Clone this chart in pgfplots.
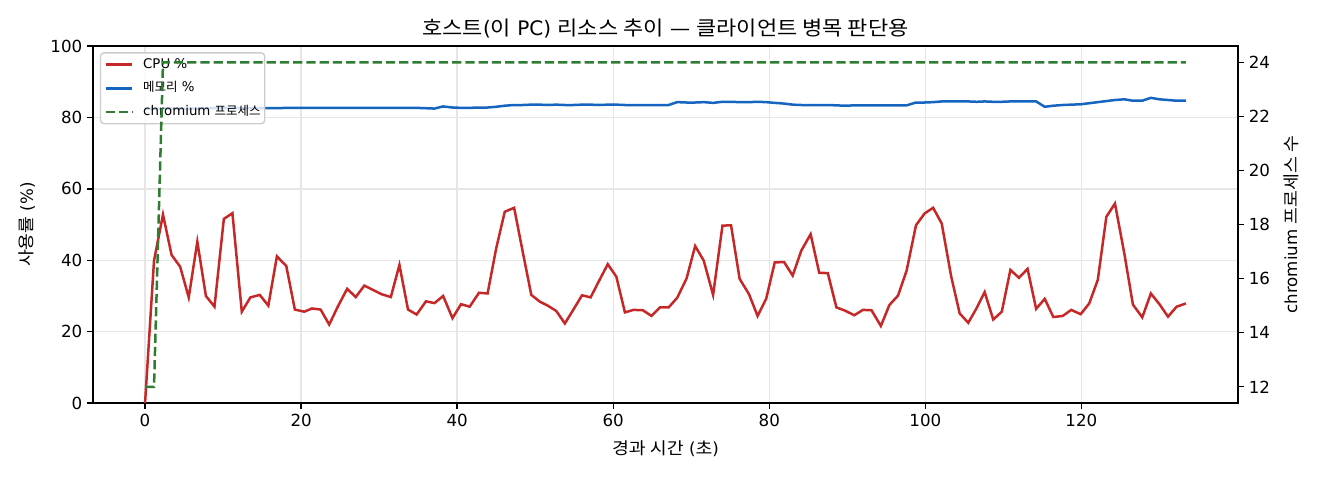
\documentclass[border=0pt]{standalone}
\usepackage{fontspec}
\setmainfont{DejaVu Sans}
\newfontfamily\kr[FakeStretch=1.1]{Noto Sans CJK KR}
\newfontfamily\krn{Noto Sans CJK KR}
\usepackage{pgfplots}
\pgfplotsset{compat=1.18}
\usepackage{pgfplotstable}
\definecolor{cpured}{HTML}{C62828}
\definecolor{memblue}{HTML}{1565C0}
\definecolor{chgreen}{HTML}{2E7D32}
\definecolor{gridc}{HTML}{E6E6E6}

\pgfplotstableread{
t cpu mem
0 0 82.4
1.15 39.9 82.4
2.3 52.8 82.5
3.4 41.5 82.5
4.5 38.2 82.5
5.6 29.6 82.5
6.7 45.2 82.5
7.8 30.0 82.6
8.9 27.0 82.6
10.1 51.6 82.6
11.2 53.2 82.6
12.4 25.6 82.6
13.5 29.6 82.6
14.7 30.3 82.6
15.8 27.3 82.6
16.9 41.1 82.6
18.1 38.4 82.7
19.2 26.2 82.7
20.4 25.6 82.7
21.4 26.5 82.7
22.5 26.2 82.7
23.6 22.0 82.7
24.7 27.0 82.7
25.9 32.0 82.7
27.0 29.7 82.7
28.1 32.9 82.7
29.2 31.7 82.7
30.3 30.5 82.7
31.5 29.7 82.7
32.6 38.7 82.7
33.7 26.2 82.7
34.8 24.8 82.7
36.0 28.5 82.6
37.1 28.0 82.5
38.2 30.0 83.1
39.4 23.8 82.8
40.5 27.7 82.7
41.6 27.0 82.7
42.8 30.9 82.8
43.9 30.7 82.8
45.0 43.3 83.0
46.1 53.6 83.3
47.3 54.7 83.5
48.4 42.4 83.5
49.5 30.3 83.6
50.6 28.4 83.6
51.6 27.3 83.5
52.7 25.8 83.6
53.8 22.3 83.5
54.9 26.2 83.5
56.0 30.2 83.6
57.1 29.6 83.6
58.2 34.3 83.5
59.3 38.9 83.6
60.4 35.4 83.6
61.5 25.4 83.5
62.6 26.1 83.5
63.8 26.0 83.5
64.9 24.4 83.5
66.0 26.8 83.5
67.1 26.8 83.5
68.2 29.5 84.3
69.4 34.9 84.2
70.5 44.0 84.2
71.6 39.9 84.3
72.8 30.3 84.1
74.0 49.7 84.4
75.1 49.8 84.4
76.2 34.8 84.3
77.4 30.5 84.3
78.5 24.4 84.4
79.6 29.2 84.3
80.7 39.4 84.1
81.9 39.5 83.9
83.0 35.7 83.6
84.1 42.7 83.5
85.3 47.3 83.5
86.4 36.5 83.5
87.5 36.4 83.5
88.6 26.8 83.4
89.7 25.9 83.3
90.9 24.6 83.4
92.0 26.1 83.4
93.1 26.0 83.4
94.3 21.6 83.4
95.4 27.5 83.4
96.5 30.1 83.4
97.6 37.1 83.4
98.8 49.8 84.2
99.9 53.1 84.2
101.0 54.7 84.3
102.1 50.3 84.5
103.3 35.6 84.5
104.4 25.1 84.5
105.5 22.5 84.5
106.6 26.7 84.4
107.6 31.1 84.5
108.7 23.4 84.4
109.8 25.6 84.4
110.9 37.3 84.5
112.0 35.1 84.5
113.1 37.6 84.5
114.2 26.4 84.5
115.3 29.2 83.0
116.4 24.1 83.3
117.6 24.4 83.5
118.7 26.1 83.6
119.9 24.9 83.7
121.0 27.9 84.0
122.1 34.5 84.3
123.2 52.2 84.6
124.3 55.9 84.9
125.5 41.9 85.1
126.6 27.6 84.7
127.8 24.0 84.7
128.9 30.7 85.5
130.0 27.7 85.1
131.1 24.2 84.9
132.2 27.0 84.7
133.4 27.9 84.7
}\datatab

\pgfplotstableread{
t n
0 12
1.15 12
2.3 24
133.4 24
}\chtab

\begin{document}
\begin{tikzpicture}
\path[use as bounding box] (-66.96pt,-55.4pt) rectangle (883.44pt,290.2pt);
\begin{axis}[
  at={(0,0)}, anchor=south west,
  scale only axis, width=824.4pt, height=257pt,
  xmin=-6.67, xmax=140.07, ymin=0, ymax=100,
  xtick={0,20,...,120}, ytick={0,20,...,100},
  tick align=outside, xtick pos=bottom, ytick pos=left,
  major tick length=4.2pt,
  tick style={black, line width=0.96pt},
  axis line style={line width=0.96pt},
  grid=major, grid style={gridc, line width=0.96pt},
  tick label style={font=\fontsize{12}{14.4}\selectfont},
  /pgf/number format/assume math mode=true,
  every axis title shift=0pt,
  title={{\kr 호스트}({\kr 이} PC) {\kr 리소스 추이} — {\kr 클라이언트 병목 판단용}},
  title style={at={(axis description cs:0.5,1.050)}, anchor=center, font=\fontsize{14.4}{17}\selectfont},
  xlabel={{\kr 경과 시간} ({\kr 초})},
  every axis x label/.style={at={(axis description cs:0.5,-0.1288)}, anchor=center, font=\fontsize{12}{14.4}\selectfont},
  ylabel={{\kr 사용률} (\%)},
  every axis y label/.style={at={(axis description cs:-0.0576,0.5)}, rotate=90, anchor=center, font=\fontsize{12}{14.4}\selectfont},
  legend cell align=left,
  legend image code/.code={\draw[#1] (0pt,0pt) -- (19.2pt,0pt); \path[draw=none] (0pt,0pt) -- (26.9pt,0pt);},
  legend style={at={(axis description cs:0.006,0.983)}, anchor=north west,
    font=\fontsize{9.6}{11.5}\selectfont, draw=black!20, line width=0.96pt,
    rounded corners=2.5pt, fill=white, fill opacity=0.8, text opacity=1,
    row sep=8pt, inner xsep=2.9pt, inner ysep=4pt,
    nodes={inner sep=0pt, text height=7pt, text depth=2pt}},
]
\addplot[cpured, line width=1.8pt] table[x=t, y=cpu] {\datatab};
\addlegendentry{CPU \%}
\addplot[memblue, line width=1.8pt] table[x=t, y=mem] {\datatab};
\addlegendentry{{\fontsize{9}{10.8}\krn 메모리} \%}
\addlegendimage{chgreen, line width=1.8pt, dash pattern=on 6.66pt off 2.88pt}
\addlegendentry{chromium {\fontsize{9}{10.8}\krn 프로세스}}
\end{axis}
\begin{axis}[
  at={(0,0)}, anchor=south west,
  scale only axis, width=824.4pt, height=257pt,
  xmin=-6.67, xmax=140.07, ymin=11.4, ymax=24.6,
  axis y line*=right, axis x line=none,
  ytick={12,14,...,24},
  tick align=outside,
  major tick length=4.2pt,
  tick style={black, line width=0.96pt},
  axis line style={line width=0.96pt},
  tick label style={font=\fontsize{12}{14.4}\selectfont},
  /pgf/number format/assume math mode=true,
  ylabel={chromium {\kr 프로세스 수}},
  every axis y label/.style={at={(axis description cs:1.0462,0.5)}, rotate=90, anchor=center, font=\fontsize{12}{14.4}\selectfont},
]
\addplot[chgreen, line width=1.8pt, dash pattern=on 6.66pt off 2.88pt] table[x=t, y=n] {\chtab};
\end{axis}
\end{tikzpicture}
\end{document}
